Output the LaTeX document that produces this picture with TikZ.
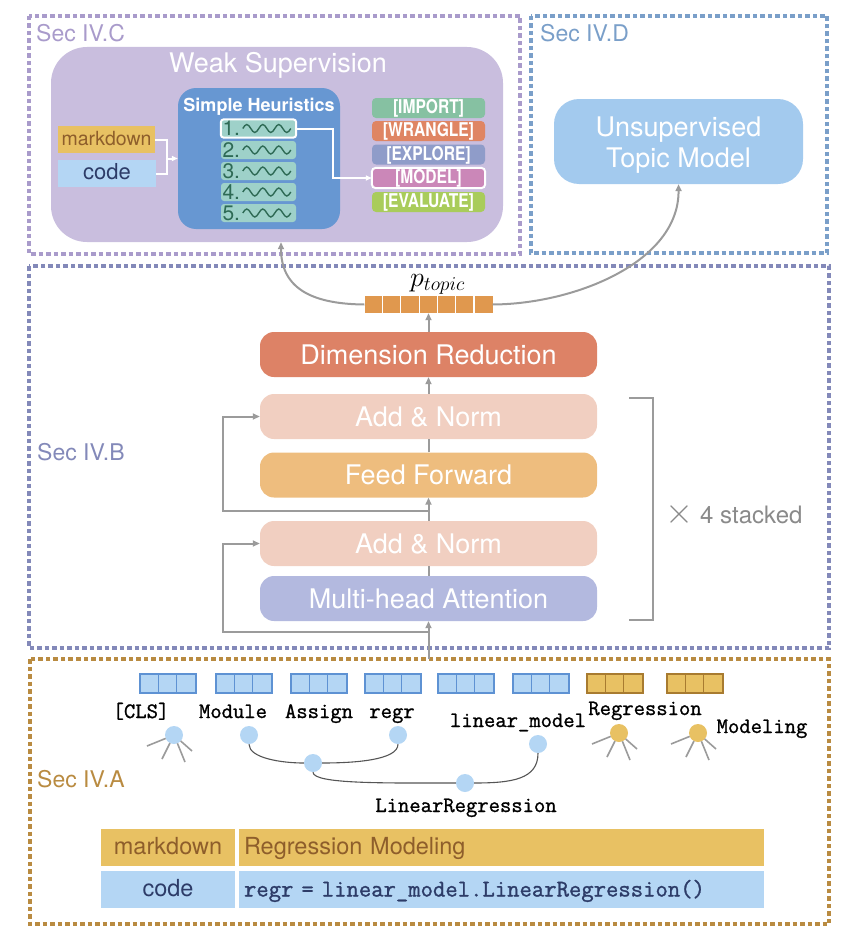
\RequirePackage{fix-cm}
\documentclass[tikz,border=0pt]{standalone}
\usepackage{amsmath}
\usepackage{xcolor}
\usepackage{fontspec}
\setmainfont{TeX Gyre Heros}
\newfontfamily\tagfont[FakeStretch=0.82]{TeX Gyre Heros}
\newfontfamily\tokfont[FakeBold=1.2]{Latin Modern Mono}
\usepackage{tikz}
\usetikzlibrary{arrows.meta}

\definecolor{secC}{HTML}{A99BCB}
\definecolor{secD}{HTML}{7A9FC9}
\definecolor{secB}{HTML}{8389B9}
\definecolor{secA}{HTML}{B98B41}
\definecolor{wsfill}{HTML}{C9BEDE}
\definecolor{shfill}{HTML}{6797D2}
\definecolor{hfill}{HTML}{9ED1C9}
\definecolor{htext}{HTML}{2E6A55}
\definecolor{mdfill}{HTML}{E8C163}
\definecolor{mdtext}{HTML}{8E5E2B}
\definecolor{codefill}{HTML}{B4D6F4}
\definecolor{codetext}{HTML}{2D3C68}
\definecolor{importc}{HTML}{86C1A2}
\definecolor{wranglec}{HTML}{DF8563}
\definecolor{explorec}{HTML}{8F9CC9}
\definecolor{modelc}{HTML}{CB87B8}
\definecolor{evalc}{HTML}{A9CC5B}
\definecolor{utmfill}{HTML}{A3CAEE}
\definecolor{drfill}{HTML}{DD8266}
\definecolor{anfill}{HTML}{F1CFC1}
\definecolor{fffill}{HTML}{EEBD7E}
\definecolor{mhafill}{HTML}{B3B9DF}
\definecolor{topicc}{HTML}{E0984E}
\definecolor{flowc}{HTML}{9B9B9B}
\definecolor{blueline}{HTML}{5E92D3}
\definecolor{goldline}{HTML}{A87B30}
\definecolor{treec}{HTML}{555555}
\definecolor{stackc}{HTML}{8A8A8A}

\tikzset{
  secframe/.style={line width=3.2pt, dash pattern=on 4.5pt off 3pt},
  seclabel/.style={anchor=base west, inner sep=0pt, font=\fontsize{23}{25}\selectfont},
  layer/.style={rounded corners=14pt, minimum width=337pt, minimum height=45pt, inner sep=0pt,
    text=white, font=\fontsize{27}{30}\selectfont},
  heur/.style={fill=hfill, rounded corners=3pt, minimum width=75pt, minimum height=18pt, inner sep=0pt},
  tagbox/.style={rounded corners=4pt, minimum width=113pt, minimum height=20pt, inner sep=0pt,
    text=white, text height=13.5pt, text depth=2pt, font=\tagfont\bfseries\fontsize{19}{20}\selectfont},
  inbox/.style={minimum height=27pt, inner sep=0pt, text height=13pt, text depth=1pt},
  flowline/.style={draw=flowc, line width=2pt},
  flow/.style={flowline, -{Triangle[length=7pt,width=6pt]}},
  wline/.style={draw=white, line width=2pt},
  warrow/.style={wline, -{Triangle[length=6pt,width=5pt]}},
  tok/.style={minimum width=56pt, minimum height=19pt, inner sep=0pt, line width=1.2pt},
  leaf/.style={circle, minimum size=18pt, inner sep=0pt},
  astedge/.style={draw=treec, line width=1.1pt},
  stub/.style={draw=flowc, line width=1.6pt},
  toklabel/.style={anchor=base, inner sep=0pt, font=\tokfont\fontsize{22}{24}\selectfont},
  cell/.style={minimum height=37pt, inner sep=0pt, text height=16pt, text depth=2pt,
    font=\fontsize{23.5}{25}\selectfont}
}

\begin{document}
\begin{tikzpicture}[x=1pt, y=-1pt]
    \useasboundingbox (0,0) rectangle (854,942);

    % section frames
    \draw[secframe, draw=secC] (29,16) rectangle (520,254);
    \draw[secframe, draw=secD] (531,16) rectangle (827,253);
    \draw[secframe, draw=secB] (29,266) rectangle (829,648);
    \draw[secframe, draw=secA] (30,659) rectangle (829,924);
    \node[seclabel, text=secC] (labC) at (36,42) {Sec IV.C};
    \node[seclabel, text=secD] (labD) at (540,42) {Sec IV.D};
    \node[seclabel, text=secB] (labB) at (37,460) {Sec IV.B};
    \node[seclabel, text=secA] (labA) at (37,787) {Sec IV.A};

    % weak supervision
    \node[fill=wsfill, rounded corners=36pt, minimum width=452pt, minimum height=195pt] (ws) at (277,144.5) {};
    \node[anchor=base, text=white, font=\fontsize{27}{29}\selectfont] (wstitle) at (278,73) {Weak Supervision};
    \node[fill=shfill, rounded corners=18pt, minimum width=162pt, minimum height=141pt] (sh) at (259,158.5) {};
    \node[anchor=base, text=white, font=\bfseries\fontsize{18}{20}\selectfont] (shtitle) at (259,111) {Simple Heuristics};

    \foreach \i/\y in {1/128.5,2/150,3/171,4/192,5/213} {
        \node[heur] (h\i) at (258.5,\y) {};
        \node[anchor=west, inner sep=0pt, text=htext, font=\fontsize{21}{22}\selectfont] (n\i) at ([xshift=1.5pt]h\i.west) {\i.};
        \draw[htext, line width=1.4pt] ([xshift=22pt]h\i.west)
            sin ++(4,-4) cos ++(4,4) sin ++(4,4) cos ++(4,-4)
            sin ++(4,-4) cos ++(4,4) sin ++(4,4) cos ++(4,-4)
            sin ++(4,-4) cos ++(4,4) sin ++(4,4) cos ++(4,-4);
    }
    \draw[white, line width=2pt, rounded corners=3pt] (h1.south west) rectangle (h1.north east);

    \node[inbox, fill=mdfill, text=mdtext, minimum width=97pt, font=\fontsize{19.5}{20}\selectfont] (wsmd) at (106.5,139.5) {markdown};
    \node[inbox, fill=codefill, text=codetext, minimum width=98pt, font=\fontsize{22}{24}\selectfont] (wscode) at (107,173.5) {code};
    \coordinate (merge) at (167,158.5);
    \draw[wline] (wsmd.east) -| (merge);
    \draw[wline] (wscode.east) -| (merge);
    \draw[warrow] (merge) -- (sh.west);

    \foreach \t/\c/\y in {IMPORT/importc/108, WRANGLE/wranglec/131, EXPLORE/explorec/154.5, MODEL/modelc/178, EVALUATE/evalc/202}
        \node[tagbox, fill=\c] (tag\t) at (428.5,\y) {[\t]};
    \draw[white, line width=2pt, rounded corners=4pt] (tagMODEL.south west) rectangle (tagMODEL.north east);
    \coordinate (bend) at (333,128.5);
    \draw[warrow] (h1.east) -- (bend) |- (tagMODEL.west);

    % topic model
    \node[fill=utmfill, rounded corners=25pt, minimum width=249pt, minimum height=85pt] (utm) at (678.5,141.5) {};
    \node[text=white, align=center, font=\fontsize{27}{31}\selectfont] (utmtext) at (678.5,145) {Unsupervised\\Topic Model};

    % encoder
    \node[layer, fill=drfill] (dimred) at (428.5,354.5) {Dimension Reduction};
    \node[layer, fill=anfill] (an2) at (428.5,416.5) {Add \& Norm};
    \node[layer, fill=fffill] (ff) at (428.5,475) {Feed Forward};
    \node[layer, fill=anfill] (an1) at (428.5,543.5) {Add \& Norm};
    \node[layer, fill=mhafill] (mha) at (428.5,598.5) {Multi-head Attention};

    \node[fill=topicc, minimum width=128pt, minimum height=17pt, inner sep=0pt] (ptopic) at (428.5,304.5) {};
    \foreach \k in {1,...,6}
        \draw[white, line width=1.2pt] ([xshift=\k*18.29pt]ptopic.north west) -- ([xshift=\k*18.29pt]ptopic.south west);
    \node[anchor=south, inner sep=1pt, font=\fontsize{28}{30}\selectfont] (ptlabel) at ([xshift=9pt]ptopic.north) {$p_{topic}$};

    \coordinate (inp) at (428.5,659);
    \draw[flow] (inp) -- (mha.south);
    \draw[flowline] (mha.north) -- (an1.south);
    \draw[flow] (an1.north) -- (ff.south);
    \draw[flowline] (ff.north) -- (an2.south);
    \draw[flow] (an2.north) -- (dimred.south);
    \draw[flow] (dimred.north) -- (ptopic.south);

    \coordinate (res1) at (428.5,632);
    \coordinate (res1c) at (223,632);
    \draw[flow] (res1) -- (res1c) |- (an1.west);
    \coordinate (res2) at (428.5,511);
    \coordinate (res2c) at (223,511);
    \draw[flow] (res2) -- (res2c) |- (an2.west);

    \draw[flowline] (629,398) -- (653,398) -- (653,620) -- (629,620);
    \node[anchor=west, text=stackc, font=\fontsize{24}{26}\selectfont] (stack) at (662,514)
        {{\fontsize{36}{36}\selectfont$\times$} 4 stacked};

    \draw[flow] (ptopic.west) .. controls (318,304) and (281,292) .. ([xshift=4pt]ws.south);
    \draw[flow] (ptopic.east) .. controls (575,304) and (679,262) .. (utm.south);

    % tokens and syntax tree
    \foreach \x/\f/\l [count=\i] in {140/codefill/blueline, 216/codefill/blueline, 291/codefill/blueline,
            365/codefill/blueline, 438/codefill/blueline, 513/codefill/blueline, 587/mdfill/goldline, 667/mdfill/goldline} {
        \node[tok, fill=\f, draw=\l] (tok\i) at (\x+28,683.5) {};
        \draw[\l, line width=1.2pt] ([xshift=18.7pt]tok\i.north west) -- ([xshift=18.7pt]tok\i.south west)
            ([xshift=37.3pt]tok\i.north west) -- ([xshift=37.3pt]tok\i.south west);
    }

    \node[leaf, fill=codefill] (cls) at (174,735) {};
    \node[leaf, fill=codefill] (module) at (249,735) {};
    \node[leaf, fill=codefill] (regr) at (398,735) {};
    \node[leaf, fill=codefill] (assign) at (313,763) {};
    \node[leaf, fill=codefill] (linmodel) at (538,744) {};
    \node[leaf, fill=codefill] (linreg) at (465,783) {};
    \node[leaf, fill=mdfill] (regression) at (619,733) {};
    \node[leaf, fill=mdfill] (modeling) at (698,733) {};

    \draw[astedge] (module.south) .. controls +(0,14) and +(-22,0) .. (assign.west);
    \draw[astedge] (regr.south) .. controls +(0,16) and +(32,0) .. (assign.east);
    \draw[astedge] (assign.south) .. controls +(0,12) and +(-70,0) .. (linreg.west);
    \draw[astedge] (linmodel.south) .. controls +(0,26) and +(38,0) .. (linreg.east);

    \foreach \n in {cls,regression,modeling}
        \foreach \sx/\sy/\ex/\ey in {-8.3/3.4/-27/11, -4/8/-12/24, 3.4/8.3/11/27, 6.7/6/18/16}
            \draw[stub] ([shift={(\sx,\sy)}]\n.center) -- ([shift={(\ex,\ey)}]\n.center);

    \node[toklabel] (lcls) at (141,718) {[CLS]};
    \node[toklabel] (lmodule) at (233,718) {Module};
    \node[toklabel] (lassign) at (319,718) {Assign};
    \node[toklabel] (lregr) at (392,718) {regr};
    \node[toklabel] (llinmodel) at (518,727) {linear\_model};
    \node[toklabel] (lregression) at (645,715) {Regression};
    \node[toklabel] (lmodeling) at (762,733) {Modeling};
    \node[toklabel] (llinreg) at (466,812) {LinearRegression};

    % cell table
    \node[cell, fill=mdfill, text=mdtext, minimum width=134pt] (mdkey) at (168,847.5) {markdown};
    \node[cell, fill=mdfill, text=mdtext, minimum width=525pt, text width=515pt, align=left] (mdval) at (501.5,847.5) {Regression Modeling};
    \node[cell, fill=codefill, text=codetext, minimum width=134pt] (codekey) at (168,889.5) {code};
    \node[cell, fill=codefill, text=codetext, minimum width=525pt, text width=515pt, align=left,
        font=\tokfont\fontsize{24}{26}\selectfont] (codeval) at (501.5,889.5) {regr = linear\_model.LinearRegression()};
\end{tikzpicture}
\end{document}
